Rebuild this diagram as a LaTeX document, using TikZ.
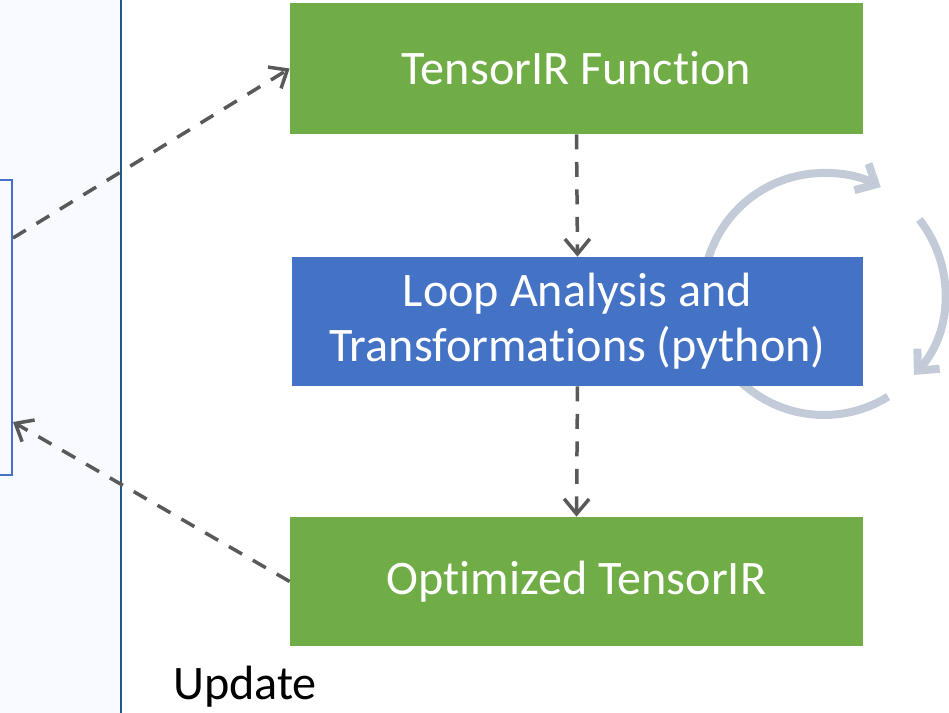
\documentclass[tikz,border=0pt]{standalone}
\usepackage{fontspec}
\setmainfont[Ligatures=NoCommon]{Carlito}
\usepackage{tikz}
\usetikzlibrary{arrows.meta,positioning,calc}

\definecolor{boxgreen}{RGB}{112,173,71}
\definecolor{boxblue}{RGB}{68,114,196}
\definecolor{panelfill}{RGB}{248,250,255}
\definecolor{panelline}{RGB}{31,90,135}
\definecolor{flowgray}{RGB}{89,89,89}
\definecolor{ringgray}{RGB}{195,203,216}

\begin{document}
\begin{tikzpicture}[
  greenbox/.style={rectangle,fill=boxgreen,text=white,minimum width=11.46cm,minimum height=2.62cm,align=center,font=\fontsize{27.4}{31.3}\selectfont},
  bluebox/.style={rectangle,fill=boxblue,text=white,minimum width=11.42cm,minimum height=2.58cm,align=center,font=\fontsize{27.4}{31.3}\selectfont},
  flow/.style={flowgray,line width=0.07cm,dash pattern=on 0.3cm off 0.25cm,-{Straight Barb[length=0.3cm,width=0.5cm,line width=0.07cm]}},
  loopring/.style={ringgray,line width=0.16cm,-{Straight Barb[length=0.32cm,width=0.6cm,line width=0.16cm]}},
]
\useasboundingbox (0,0) rectangle (18.98,14.26);

% left panel
\fill[panelfill] (0,0) rectangle (2.42,14.26);
\draw[panelline,line width=0.045cm] (2.42,0) -- (2.42,14.26);
\begin{scope}
\clip (0,0) rectangle (2.42,14.26);
\node[draw=boxblue,line width=0.04cm,minimum width=2cm,minimum height=5.9cm,anchor=east] (prog) at (0.26,7.71) {};
\end{scope}

% iteration ring behind the blue box
\coordinate (ring) at (16.48,8.38);
\draw[loopring] ($(ring)+(190:2.42)$) arc[start angle=190,end angle=62,radius=2.42];
\draw[loopring] ($(ring)+(38:2.42)$) arc[start angle=38,end angle=-42,radius=2.42];
\draw[loopring] ($(ring)+(-58:2.42)$) arc[start angle=-58,end angle=-170,radius=2.42];

\node[greenbox] (func) at (11.53,12.89) {TensorIR Function};
\node[bluebox] (loop) at (11.55,7.83) {Loop Analysis and\\Transformations (python)};
\node[greenbox,minimum height=2.58cm] (opt) at (11.53,2.63) {Optimized TensorIR};
\node[anchor=base west,font=\fontsize{27.4}{31.3}\selectfont] (update) at (3.34,0.26) {Update};

\draw[flow] ([yshift=1.79cm]prog.east) -- (func.west);
\draw[flow] (func.south) -- (loop.north);
\draw[flow] (loop.south) -- (opt.north);
\draw[flow] (opt.west) -- ([yshift=-1.89cm]prog.east);

\end{tikzpicture}
\end{document}
